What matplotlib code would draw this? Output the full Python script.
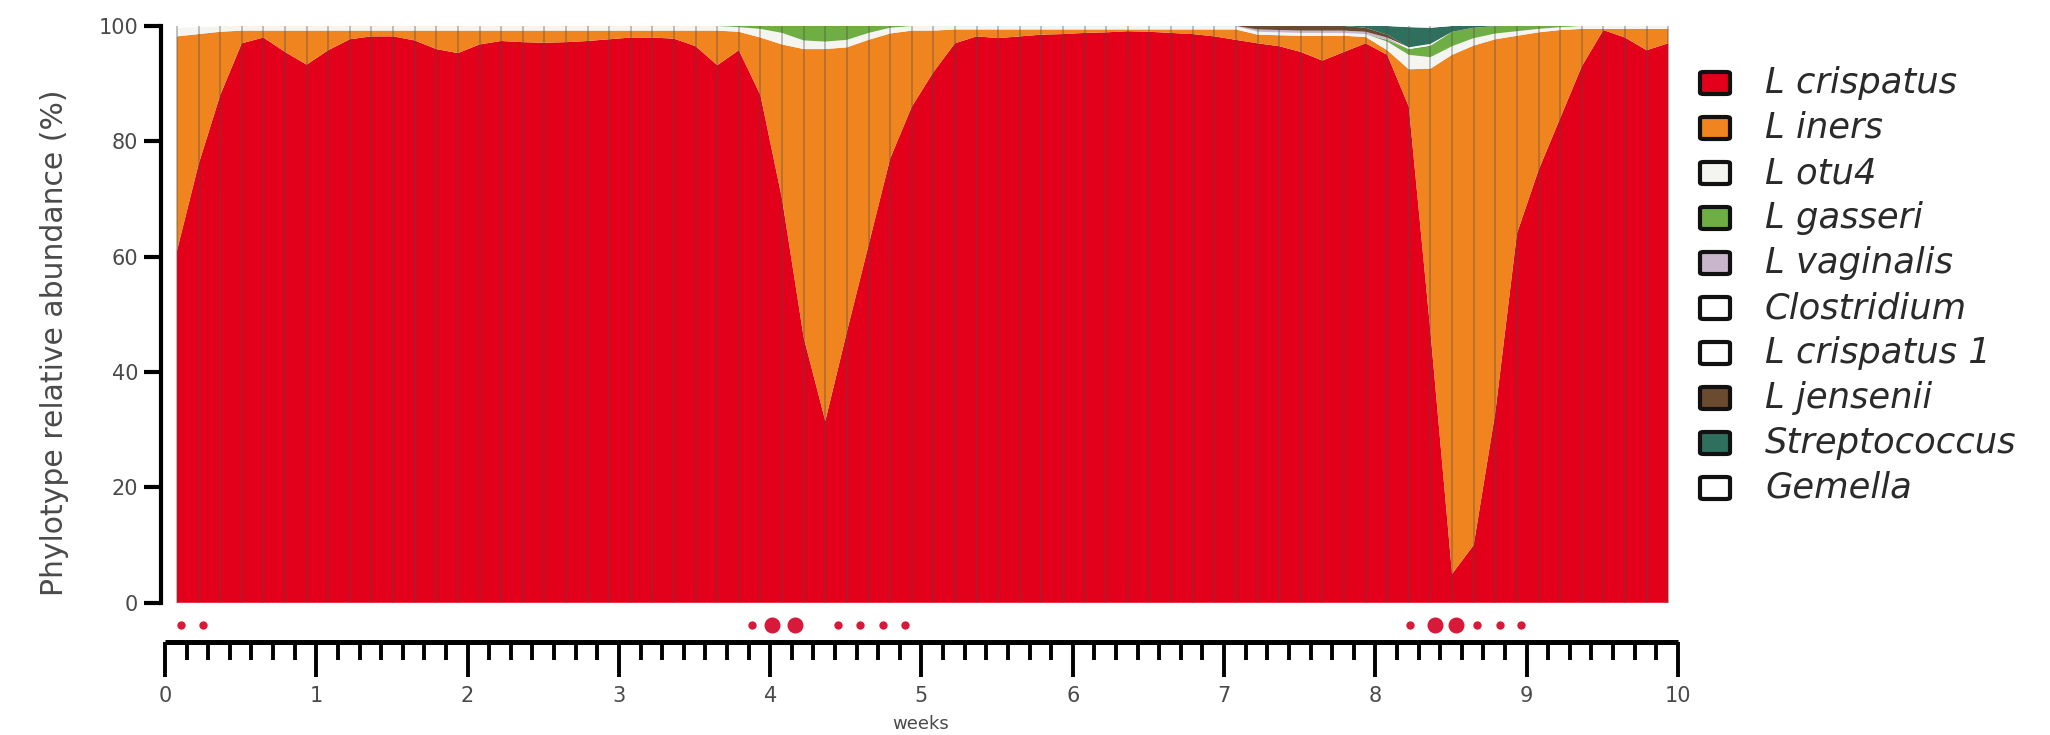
import numpy as np
import matplotlib
matplotlib.use("Agg")
import matplotlib.pyplot as plt
from matplotlib.patches import FancyBboxPatch

# ---------------- data ----------------
# sampling days (one sample per day)
sample_days = [0.55 + k for k in range(70)]

species = ["L crispatus", "L iners", "L otu4", "L gasseri", "L vaginalis",
           "Clostridium", "L crispatus 1", "L jensenii", "Streptococcus", "Gemella"]
colors = ["#E2001A", "#F0841E", "#F4F4F0", "#6FAE45", "#C9B6CC",
          "#FFFFFF", "#FFFFFF", "#6B4B30", "#2F6F5E", "#FFFFFF"]

l_crispatus = [61, 76, 88, 97, 98, 95.5, 93.3, 95.8, 97.7, 98.2,
               98.2, 97.5, 96, 95.3, 96.8, 97.4, 97.2, 97.1, 97.2, 97.4,
               97.7, 98, 98, 97.8, 96.5, 93.2, 95.8, 88, 70, 46,
               31.5, 47, 62, 77, 86, 92, 97, 98.2, 97.9, 98.2,
               98.5, 98.6, 98.8, 98.9, 99.1, 99.0, 98.8, 98.6, 98.2, 97.6,
               97, 96.5, 95.5, 94, 95.5, 97, 95, 86, 47, 5,
               10, 33, 64, 75, 84, 93, 99.3, 98, 95.8, 97]
l_iners = [37.2, 22.6, 11.0, 2.2, 1.2, 3.7, 5.9, 3.4, 1.5, 1.0,
           1.0, 1.7, 3.2, 3.9, 2.4, 1.8, 2.0, 2.1, 2.0, 1.8,
           1.5, 1.2, 1.2, 1.4, 2.7, 6.0, 3.2, 10.0, 26.8, 50.0,
           64.5, 49.3, 35.6, 21.7, 13.2, 7.2, 2.4, 1.2, 1.5, 1.2,
           0.9, 0.8, 0.6, 0.5, 0.3, 0.4, 0.6, 0.8, 1.2, 1.8,
           1.5, 1.9, 2.8, 4.3, 2.8, 1.1, 0.8, 6.5, 45.6, 90.0,
           86.6, 64.7, 34.3, 23.9, 15.3, 6.5, 0.2, 1.5, 3.7, 2.5]
l_otu4 = [1.5, 1.2, 1.0, 0.8, 0.8, 0.8, 0.8, 0.8, 0.8, 0.8,
          0.8, 0.8, 0.8, 0.8, 0.8, 0.8, 0.8, 0.8, 0.8, 0.8,
          0.8, 0.8, 0.8, 0.8, 0.8, 0.8, 0.8, 1.5, 2.0, 1.5,
          1.3, 1.3, 1.2, 1.0, 0.8, 0.8, 0.6, 0.6, 0.6, 0.6,
          0.6, 0.6, 0.6, 0.6, 0.6, 0.6, 0.6, 0.6, 0.6, 0.6,
          0.5, 0.5, 0.5, 0.5, 0.5, 0.5, 1.5, 2.5, 2.0, 1.5,
          1.3, 1.0, 0.8, 0.6, 0.5, 0.5, 0.5, 0.5, 0.5, 0.5]
l_gasseri = [0, 0, 0, 0, 0, 0, 0, 0, 0, 0,
             0, 0, 0, 0, 0, 0, 0, 0, 0, 0,
             0, 0, 0, 0, 0, 0, 0.2, 0.5, 1.2, 2.5,
             2.7, 2.4, 1.2, 0.3, 0, 0, 0, 0, 0, 0,
             0, 0, 0, 0, 0, 0, 0, 0, 0, 0,
             0, 0, 0, 0, 0, 0, 0.3, 1.0, 2.0, 2.5,
             1.8, 1.3, 0.9, 0.5, 0.2, 0, 0, 0, 0, 0]
l_vaginalis = [0] * 50 + [0.4, 0.4, 0.4, 0.4, 0.4, 0.4, 0.4, 0, 0, 0,
                          0, 0, 0, 0, 0, 0, 0, 0, 0, 0]
clostridium = [0] * 57 + [0.3, 0.3, 0, 0, 0, 0, 0, 0, 0, 0, 0, 0, 0]
l_crispatus_1 = [0.3, 0.2] + [0] * 68
l_jensenii = [0] * 50 + [0.6, 0.7, 0.8, 0.8, 0.8, 0.7, 0.5, 0, 0, 0,
                         0, 0, 0, 0, 0, 0, 0, 0, 0, 0]
streptococcus = [0] * 55 + [0.3, 1.5, 3.5, 2.8, 1.0, 0.3, 0, 0, 0, 0,
                            0, 0, 0, 0, 0]
gemella = [0] * 57 + [0.2, 0.3, 0, 0, 0, 0, 0, 0, 0, 0, 0, 0, 0]

# menses markers (day, intensity: 1 = light, 2 = heavy)
menses_days = [0.75, 1.75, 27.15, 28.1, 29.15, 31.15, 32.15, 33.2, 34.25,
               57.6, 58.75, 59.75, 60.7, 61.75, 62.75]
menses_level = [1, 1, 1, 2, 2, 1, 1, 1, 1, 1, 2, 2, 1, 1, 1]

week_ticks = list(range(0, 11))

# ---------------- figure ----------------
W, H = 2050, 735
fig = plt.figure(figsize=(W / 100, H / 100), dpi=100)
plt.rcParams['font.family'] = ['DejaVu Sans']

x0_px, x1_px = 160.5, 1687.0
y_top_px, y_bot_px = 26.0, 642.0
ax = fig.add_axes([x0_px / W, 1 - y_bot_px / H,
                   (x1_px - x0_px) / W, (y_bot_px - y_top_px) / H])

weeks = np.array(sample_days) / 7.0
series = [l_crispatus, l_iners, l_otu4, l_gasseri, l_vaginalis,
          clostridium, l_crispatus_1, l_jensenii, streptococcus, gemella]
ax.stackplot(weeks, *series, colors=colors, linewidth=0, edgecolor='none',
             antialiased=True)

# sample lines
ax.vlines(weeks, 0, 100, colors=(0.30, 0.30, 0.30), alpha=0.40, lw=1.2, zorder=3)

# menses dots
mx = np.array(menses_days) / 7.0
ms = [6.0 if lv == 1 else 11.5 for lv in menses_level]
for xx, m in zip(mx, ms):
    ax.plot([xx], [-3.8], 'o', color='#D8193A', ms=m, mec='none', clip_on=False, zorder=4)

ax.set_xlim(-0.03, 10.06)
ax.set_ylim(-6.8, 100)

for s in ['top', 'right']:
    ax.spines[s].set_visible(False)
ax.spines['left'].set_bounds(0, 100)
ax.spines['left'].set_linewidth(3.0)
ax.spines['bottom'].set_bounds(0, 10)
ax.spines['bottom'].set_linewidth(3.6)
ax.spines['bottom'].set_capstyle('butt')

ax.set_yticks([0, 20, 40, 60, 80, 100])
ax.set_yticklabels(['0', '20', '40', '60', '80', '100'])
ax.set_xticks(week_ticks)
ax.set_xticklabels([str(t) for t in week_ticks])
ax.set_xticks(np.arange(0, 70) / 7.0, minor=True)

lab_col = '#4a4a4a'
ax.tick_params(axis='x', which='major', direction='out', length=25, width=2.8,
               pad=7, labelsize=15, labelcolor=lab_col, color='black')
ax.tick_params(axis='x', which='minor', direction='out', length=13, width=2.8,
               color='black')
ax.tick_params(axis='y', which='major', direction='out', length=12, width=3,
               pad=4, labelsize=15, labelcolor=lab_col, color='black')

ax.set_ylabel('Phylotype relative abundance (%)', fontsize=21.5, color=lab_col)
ax.yaxis.set_label_coords((69 - x0_px) / (x1_px - x0_px), (6.8 + 45.1) / 106.8)
ax.set_xlabel('weeks', fontsize=13, color=lab_col, va='center')
ax.xaxis.set_label_coords((921 - x0_px) / (x1_px - x0_px),
                          (y_bot_px - 724) / (y_bot_px - y_top_px))

# ---------------- legend ----------------
sq_w, sq_h = 30, 22
sq_x0 = 1715 - sq_w / 2
txt_x = 1765
row0, row_dy = 83, 45
for i, (name, c) in enumerate(zip(species, colors)):
    yc = row0 + i * row_dy
    patch = FancyBboxPatch((sq_x0 / W, 1 - (yc + sq_h / 2) / H),
                           sq_w / W, sq_h / H,
                           boxstyle="round,pad=0,rounding_size=0.002",
                           transform=fig.transFigure, facecolor=c,
                           edgecolor='#111111', linewidth=3.0)
    fig.add_artist(patch)
    fig.text(txt_x / W, 1 - yc / H, name, fontsize=25.5, style='italic',
             color='#2a2a2a', ha='left', va='center')

fig.savefig('out.png', dpi=100, facecolor='white')
